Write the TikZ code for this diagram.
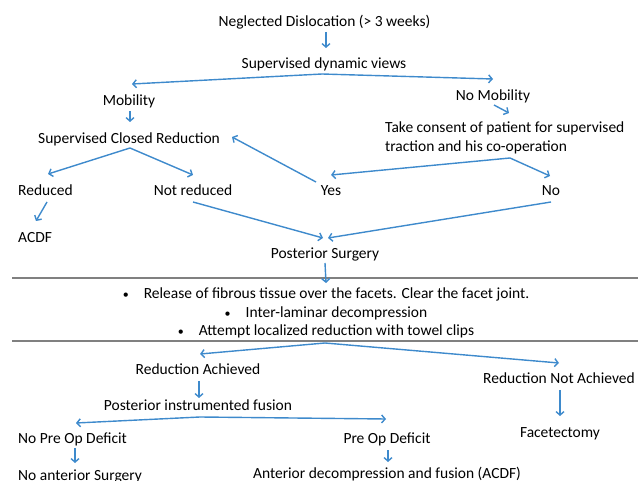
\documentclass[tikz,border=0pt]{standalone}
\usepackage{fontspec}
\setmainfont{Carlito}
\usetikzlibrary{arrows.meta}
\definecolor{arrblue}{RGB}{62,138,204}
\definecolor{rulegray}{RGB}{128,128,128}
\newcommand{\smallbul}{{\fontsize{12}{12}\selectfont •}}
\begin{document}
\begin{tikzpicture}[x=1pt,y=-1pt,
  plain/.style={inner sep=0pt, font=\fontsize{15.5}{19}\selectfont},
  txt/.style={plain, text height=2.4ex, text depth=0.1ex},
  arr/.style={draw=arrblue, line width=1.4pt, -{Straight Barb[length=3.5pt,width=8pt]}},
  band/.style={draw=rulegray, line width=1.6pt}]
\useasboundingbox (0,0) rectangle (638,481);
% nodes
\node[txt] (neg) at (324.5,21) {Neglected Dislocation (> 3 weeks)};
\node[txt] (sdv) at (324,63) {Supervised dynamic views};
\node[txt] (mob) at (129,100) {Mobility};
\node[txt] (nomob) at (493,95) {No Mobility};
\node[txt] (scr) at (129,138) {Supervised Closed Reduction};
\node[plain, anchor=west, align=left] (consent) at (385,138) {Take consent of patient for supervised\\traction and his co-operation};
\node[txt, anchor=west] (red) at (18,190) {Reduced};
\node[txt] (notred) at (193,190) {Not reduced};
\node[txt] (yes) at (331,190) {Yes};
\node[txt] (no) at (551,190) {No};
\node[txt, anchor=west] (acdfa) at (18,237) {ACDF};
\node[txt] (ps) at (325,253) {Posterior Surgery};
\node[txt] (b1) at (326,293) {\smallbul\hspace{15pt}Release of fibrous tissue over the facets. Clear the facet joint.};
\node[txt] (b2) at (326,312) {\smallbul\hspace{15pt}Inter-laminar decompression};
\node[txt] (b3) at (326,330) {\smallbul\hspace{15pt}Attempt localized reduction with towel clips};
\node[txt] (ra) at (198,369) {Reduction Achieved};
\node[txt] (rna) at (559,378) {Reduction Not Achieved};
\node[txt] (pif) at (198,405) {Posterior instrumented fusion};
\node[txt] (fac) at (560,432) {Facetectomy};
\node[txt, anchor=west] (nopre) at (18,438) {No Pre Op Deficit};
\node[txt] (pre) at (387,438) {Pre Op Deficit};
\node[txt, anchor=west] (noant) at (18,475) {No anterior Surgery};
\node[txt] (ant) at (387,473) {Anterior decompression and fusion (ACDF)};
% band rules
\coordinate (r1a) at (12,278); \coordinate (r1b) at (638,278);
\coordinate (r2a) at (12,341); \coordinate (r2b) at (638,341);
\draw[band] (r1a) -- (r1b);
\draw[band] (r2a) -- (r2b);
% split points
\coordinate (s1) at ([shift={(-2,11)}]sdv.center);
\coordinate (s2) at ([shift={(1,10)}]scr.center);
\coordinate (s3) at ([shift={(125,20)}]consent.west);
\coordinate (s4) at ([shift={(-1,13)}]b3.center);
\coordinate (s5) at ([shift={(2,12)}]pif.center);
% connectors
\draw[arr] ([shift={(1.5,11)}]neg.center) -- ([shift={(2,-15)}]sdv.center);
\draw[arr] (s1) -- ([shift={(3,-16)}]mob.center);
\draw[arr] (s1) -- ([shift={(0,-16)}]nomob.center);
\draw[arr] ([shift={(1,11)}]mob.center) -- ([shift={(1,-16)}]scr.center);
\draw[arr] ([shift={(1,10)}]nomob.center) -- ([shift={(124,-25)}]consent.west);
\draw[arr] (s2) -- ([shift={(30,-16)}]red.west);
\draw[arr] (s2) -- ([shift={(0,-15)}]notred.center);
\draw[arr] ([shift={(29,12)}]red.west) -- ([shift={(18,-16)}]acdfa.west);
\draw[arr] ([shift={(0,12)}]notred.center) -- ([shift={(-2,-15)}]ps.center);
\draw[arr] ([shift={(0,12)}]no.center) -- ([shift={(3,-15)}]ps.center);
\draw[arr] ([shift={(-15,-8)}]yes.center) -- ([shift={(103,-1)}]scr.center);
\draw[arr] (s3) -- ([shift={(0,-15)}]yes.center);
\draw[arr] (s3) -- ([shift={(-1,-14)}]no.center);
\draw[arr] ([shift={(0,10)}]ps.center) -- ([shift={(0,-10)}]b1.center);
\draw[arr] (s4) -- ([shift={(2,-15)}]ra.center);
\draw[arr] (s4) -- ([shift={(0,-15)}]rna.center);
\draw[arr] ([shift={(1,12)}]ra.center) -- ([shift={(1,-7)}]pif.center);
\draw[arr] (s5) -- ([shift={(58,-15)}]nopre.west);
\draw[arr] (s5) -- ([shift={(-1,-19)}]pre.center);
\draw[arr] ([shift={(57,10)}]nopre.west) -- ([shift={(57,-12)}]noant.west);
\draw[arr] ([shift={(1,12)}]pre.center) -- ([shift={(1,-11)}]ant.center);
\draw[arr] ([shift={(1,12)}]rna.center) -- ([shift={(0,-16)}]fac.center);
\end{tikzpicture}
\end{document}
